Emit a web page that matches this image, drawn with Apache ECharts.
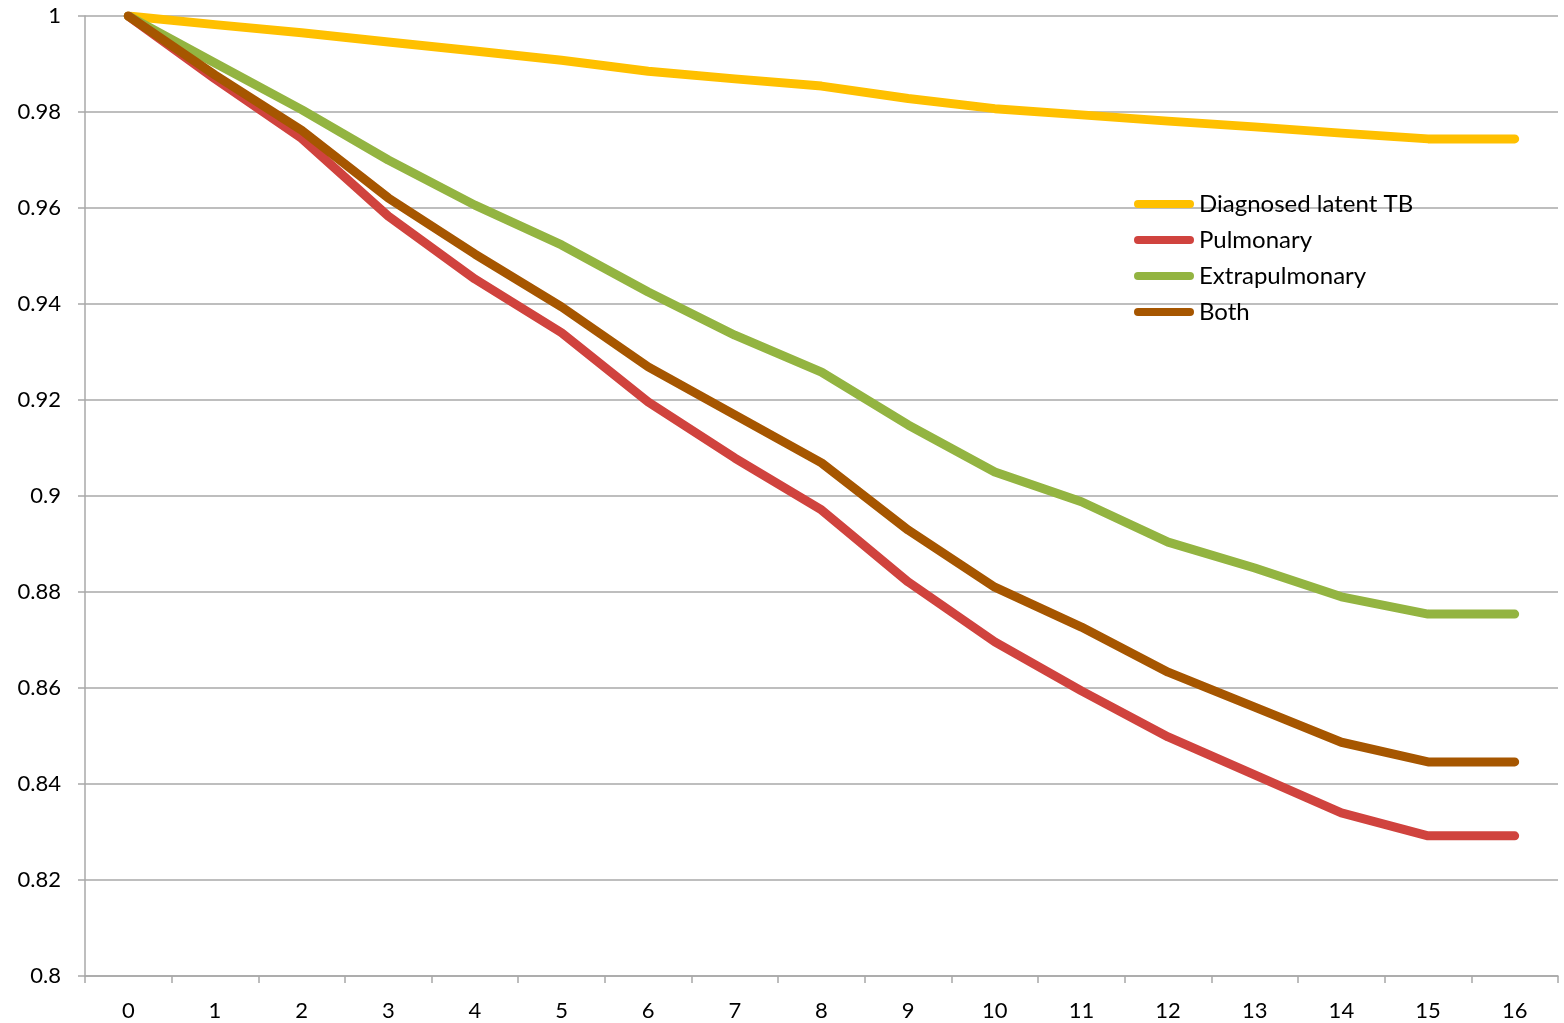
<!DOCTYPE html>
<html>
<head>
<meta charset="utf-8">
<script src="https://cdn.jsdelivr.net/npm/echarts@6/dist/echarts.min.js"></script>
<style>
html,body{margin:0;padding:0;background:#fff;}
#chart{width:1564px;height:1023px;}
</style>
</head>
<body>
<div id="chart"></div>
<script>
const categories = ['0','1','2','3','4','5','6','7','8','9','10','11','12','13','14','15','16'];
const latentTB = [1.0, 0.9982, 0.9965, 0.9946, 0.9927, 0.9908, 0.9885, 0.9869, 0.9854, 0.9828, 0.9807, 0.9794, 0.9781, 0.9769, 0.9756, 0.9744, 0.9744];
const pulmonary = [1.0, 0.9869, 0.9745, 0.9583, 0.9452, 0.9340, 0.9196, 0.9079, 0.8971, 0.8821, 0.8696, 0.8594, 0.8498, 0.8419, 0.8340, 0.8292, 0.8292];
const extrapulmonary = [1.0, 0.9902, 0.9805, 0.9700, 0.9606, 0.9523, 0.9425, 0.9335, 0.9258, 0.9148, 0.9050, 0.8988, 0.8904, 0.8850, 0.8790, 0.8754, 0.8754];
const both = [1.0, 0.9877, 0.9762, 0.9621, 0.9504, 0.9394, 0.9269, 0.9169, 0.9069, 0.8929, 0.8810, 0.8727, 0.8633, 0.8560, 0.8487, 0.8446, 0.8446];
const seriesNames = ['Diagnosed latent TB', 'Pulmonary', 'Extrapulmonary', 'Both'];
const seriesColors = ['#FFC000', '#D0433E', '#93B441', '#A65600'];
const seriesData = [latentTB, pulmonary, extrapulmonary, both];

const FONT = 'Lato, "DejaVu Sans", sans-serif';
const chart = echarts.init(document.getElementById('chart'), null, {renderer: 'canvas'});
const capsule = 'path://M4,0 L56,0 A4,4 0 0 1 56,8 L4,8 A4,4 0 0 1 4,0 Z';

chart.setOption({
  animation: false,
  backgroundColor: '#ffffff',
  grid: {left: 85, right: 6, top: 16, bottom: 47, containLabel: false},
  legend: {
    orient: 'vertical',
    left: 1134,
    top: 191,
    padding: 0,
    itemWidth: 60,
    itemHeight: 9,
    itemGap: 10,
    icon: capsule,
    textStyle: {fontFamily: FONT, fontSize: 24, color: '#000', lineHeight: 26},
    data: seriesNames
  },
  xAxis: {
    type: 'category',
    data: categories,
    boundaryGap: true,
    axisLine: {lineStyle: {color: '#A8A8A8', width: 1.5}},
    axisTick: {show: true, length: 7, lineStyle: {color: '#A8A8A8', width: 1.5}},
    axisLabel: {fontFamily: FONT, fontSize: 22, color: '#000', margin: 24},
    splitLine: {show: false}
  },
  yAxis: {
    type: 'value',
    min: 0.8,
    max: 1,
    interval: 0.02,
    axisLine: {show: true, lineStyle: {color: '#A8A8A8', width: 1.5}},
    axisTick: {show: true, length: 7, lineStyle: {color: '#A8A8A8', width: 1.5}},
    axisLabel: {
      fontFamily: FONT, fontSize: 22, color: '#000', margin: 24,
      formatter: v => String(parseFloat(v.toFixed(2)))
    },
    splitLine: {show: true, lineStyle: {color: '#A8A8A8', width: 1.5}}
  },
  series: seriesNames.map((name, i) => ({
    name: name,
    type: 'line',
    data: seriesData[i],
    showSymbol: false,
    symbol: 'none',
    smooth: false,
    color: seriesColors[i],
    lineStyle: {width: 9, color: seriesColors[i], cap: 'round', join: 'round'},
    itemStyle: {color: seriesColors[i]}
  }))
});
</script>
</body>
</html>
